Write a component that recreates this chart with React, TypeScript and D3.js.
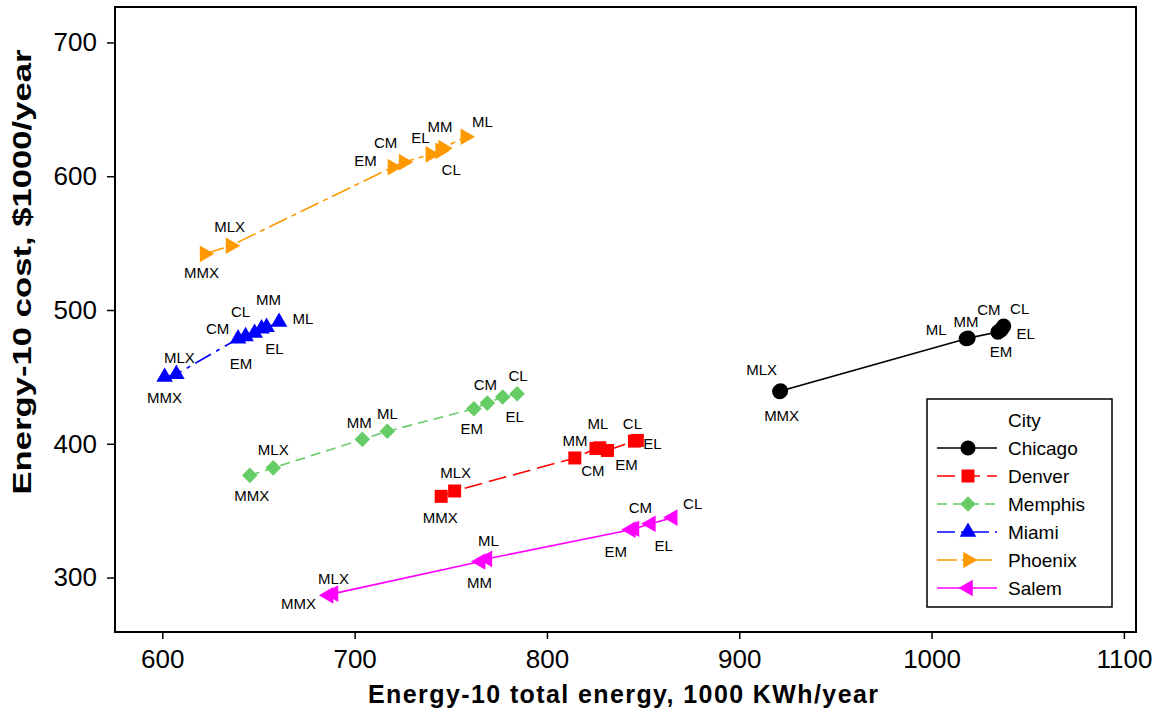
import React, { useEffect, useRef } from 'react';
import * as d3 from 'd3';

// values
const chicagoLabels = ['MMX', 'MLX', 'ML', 'MM', 'EM', 'CM', 'EL', 'CL'];
const chicagoEnergy = [921, 921.5, 1018, 1019, 1034.5, 1036, 1036.5, 1037.5];
const chicagoCost = [439, 439.5, 478.5, 479, 483.5, 485, 486, 488];

const denverLabels = ['MMX', 'MLX', 'CM', 'MM', 'ML', 'EM', 'CL', 'EL'];
const denverEnergy = [745, 752, 814.5, 825.5, 827.5, 831.5, 845.5, 847];
const denverCost = [360.7, 364.7, 389.4, 396.5, 397, 395, 402, 402.5];

const memphisLabels = ['MMX', 'MLX', 'MM', 'ML', 'EM', 'CM', 'EL', 'CL'];
const memphisEnergy = [645.5, 657.7, 704, 717, 762, 769, 777, 784.5];
const memphisCost = [376.4, 382, 403.3, 409.3, 426.2, 430.4, 435, 437.4];

const miamiLabels = ['MMX', 'MLX', 'EM', 'CM', 'CL', 'EL', 'MM', 'ML'];
const miamiEnergy = [601.2, 607.3, 639.4, 643.3, 648, 651.6, 654.2, 660.7];
const miamiCost = [449.9, 452, 478.6, 480.3, 482.8, 486, 487.2, 491];

const phoenixLabels = ['MMX', 'MLX', 'EM', 'CM', 'EL', 'CL', 'MM', 'ML'];
const phoenixEnergy = [622, 635.5, 719.7, 725.5, 739.4, 744.5, 746, 757.6];
const phoenixCost = [542, 548, 606.8, 610.5, 616.3, 619, 621, 629.5];

const salemLabels = ['MMX', 'MLX', 'MM', 'ML', 'EM', 'CM', 'EL', 'CL'];
const salemEnergy = [686.4, 689, 765.5, 769, 843.6, 845.5, 854, 865.4];
const salemCost = [286.7, 288, 312, 314, 335.8, 336.5, 340.2, 344.8];

const cityNames = ['Chicago', 'Denver', 'Memphis', 'Miami', 'Phoenix', 'Salem'];
const xTicks = [600, 700, 800, 900, 1000, 1100];
const yTicks = [300, 400, 500, 600, 700];

// styling per city
const cityStyle: Record<string, { color: string; dash: string; marker: string }> = {
  Chicago: { color: '#000000', dash: '', marker: 'circle' },
  Denver: { color: '#ff0000', dash: '18,7', marker: 'square' },
  Memphis: { color: '#66cc66', dash: '10,6', marker: 'diamond' },
  Miami: { color: '#0000ff', dash: '18,6,4,6', marker: 'up' },
  Phoenix: { color: '#ff9900', dash: '20,5,5,5', marker: 'right' },
  Salem: { color: '#ff00ff', dash: '', marker: 'left' },
};

// label offsets (px) from the marker centre
const labelOffset: Record<string, [number, number]> = {
  'Chicago:MMX': [2, 24], 'Chicago:MLX': [-19, -21], 'Chicago:ML': [-30, -9], 'Chicago:MM': [-2, -16],
  'Chicago:EM': [3, 20], 'Chicago:CM': [-12, -20], 'Chicago:EL': [24, 5], 'Chicago:CL': [16, -17],
  'Denver:MMX': [-1, 21], 'Denver:MLX': [1, -18], 'Denver:CM': [18, 13], 'Denver:MM': [-21, -8],
  'Denver:ML': [-2, -24], 'Denver:EM': [19, 14], 'Denver:CL': [-2, -18], 'Denver:EL': [15, 3],
  'Memphis:MMX': [2, 20], 'Memphis:MLX': [0, -18], 'Memphis:MM': [-3, -17], 'Memphis:ML': [0, -18],
  'Memphis:EM': [-2, 20], 'Memphis:CM': [-2, -19], 'Memphis:EL': [12, 20], 'Memphis:CL': [1, -18],
  'Miami:MMX': [0, 21], 'Miami:MLX': [3, -17], 'Miami:EM': [3, 25], 'Miami:CM': [-28, -8],
  'Miami:CL': [-14, -21], 'Miami:EL': [13, 20], 'Miami:MM': [2, -28], 'Miami:ML': [24, -3],
  'Phoenix:MMX': [-3, 19], 'Phoenix:MLX': [-1, -19], 'Phoenix:EM': [-27, -7], 'Phoenix:CM': [-18, -20],
  'Phoenix:EL': [-10, -17], 'Phoenix:CL': [11, 19], 'Phoenix:MM': [-3, -22], 'Phoenix:ML': [17, -15],
  'Salem:MMX': [-30, 8], 'Salem:MLX': [0, -15], 'Salem:MM': [-1, 21], 'Salem:ML': [1, -18],
  'Salem:EM': [-15, 22], 'Salem:CM': [6, -21], 'Salem:EL': [13, 22], 'Salem:CL': [20, -14],
};

const FONT = '"Liberation Sans", Arial, Helvetica, sans-serif';
const W = 1152;
const H = 713;

const markerPath = (kind: string) => {
  if (kind === 'circle') return { d: d3.symbol(d3.symbolCircle, 180)() as string, rot: 0 };
  if (kind === 'square') return { d: d3.symbol(d3.symbolSquare, 169)() as string, rot: 0 };
  if (kind === 'diamond') return { d: d3.symbol(d3.symbolSquare, 121)() as string, rot: 45 };
  const tri = d3.symbol(d3.symbolTriangle, 120)() as string;
  if (kind === 'right') return { d: tri, rot: 90 };
  if (kind === 'left') return { d: tri, rot: -90 };
  return { d: tri, rot: 0 };
};

export default function App() {
  const svgRef = useRef<SVGSVGElement>(null);

  useEffect(() => {
    document.body.style.margin = '0';
    if (!svgRef.current) return;
    const svg = d3.select(svgRef.current);
    svg.selectAll('*').remove();

    const plot = { left: 115, right: 1136, top: 7, bottom: 632 };
    const x = d3.scaleLinear().domain([575.4, 1106.3]).range([plot.left, plot.right]);
    const y = d3.scaleLinear().domain([259.3, 726.5]).range([plot.bottom, plot.top]);

    const series = [
      { name: 'Chicago', labels: chicagoLabels, xs: chicagoEnergy, ys: chicagoCost },
      { name: 'Denver', labels: denverLabels, xs: denverEnergy, ys: denverCost },
      { name: 'Memphis', labels: memphisLabels, xs: memphisEnergy, ys: memphisCost },
      { name: 'Miami', labels: miamiLabels, xs: miamiEnergy, ys: miamiCost },
      { name: 'Phoenix', labels: phoenixLabels, xs: phoenixEnergy, ys: phoenixCost },
      { name: 'Salem', labels: salemLabels, xs: salemEnergy, ys: salemCost },
    ].map((s) => ({
      ...s,
      points: s.labels.map((l, i) => ({ label: l, x: s.xs[i], y: s.ys[i] })),
    }));

    svg.append('rect').attr('width', W).attr('height', H).attr('fill', '#fff');

    // axes
    const xAxis = svg
      .append('g')
      .attr('transform', `translate(0,${plot.bottom})`)
      .call(d3.axisBottom(x).tickValues(xTicks).tickSize(7).tickPadding(11).tickFormat(d3.format('d')));
    const yAxis = svg
      .append('g')
      .attr('transform', `translate(${plot.left},0)`)
      .call(d3.axisLeft(y).tickValues(yTicks).tickSize(8).tickPadding(10).tickFormat(d3.format('d')));
    [xAxis, yAxis].forEach((a) => {
      a.select('.domain').remove();
      a.selectAll('line').attr('stroke', '#000').attr('stroke-width', 1.5);
      a.selectAll('text').attr('font-family', FONT).attr('font-size', 26).attr('fill', '#000');
    });

    // frame
    svg
      .append('rect')
      .attr('x', plot.left)
      .attr('y', plot.top)
      .attr('width', plot.right - plot.left)
      .attr('height', plot.bottom - plot.top)
      .attr('fill', 'none')
      .attr('stroke', '#000')
      .attr('stroke-width', 2);

    // axis titles
    svg
      .append('text')
      .attr('x', 623)
      .attr('y', 703)
      .attr('text-anchor', 'middle')
      .attr('font-family', FONT)
      .attr('font-weight', 'bold')
      .attr('font-size', 25)
      .attr('textLength', 510)
      .attr('lengthAdjust', 'spacing')
      .text('Energy-10 total energy, 1000 KWh/year');

    svg
      .append('text')
      .attr('transform', 'translate(31,272) rotate(-90)')
      .attr('text-anchor', 'middle')
      .attr('font-family', FONT)
      .attr('font-weight', 'bold')
      .attr('font-size', 26)
      .attr('textLength', 445)
      .attr('lengthAdjust', 'spacingAndGlyphs')
      .text('Energy-10 cost, $1000/year');

    const line = d3
      .line<{ x: number; y: number }>()
      .x((d) => x(d.x))
      .y((d) => y(d.y));

    // lines
    series.forEach((s) => {
      const st = cityStyle[s.name];
      svg
        .append('path')
        .datum(s.points)
        .attr('d', line)
        .attr('fill', 'none')
        .attr('stroke', st.color)
        .attr('stroke-width', 1.6)
        .attr('stroke-dasharray', st.dash || null);
    });

    // markers
    series.forEach((s) => {
      const st = cityStyle[s.name];
      const m = markerPath(st.marker);
      svg
        .append('g')
        .selectAll('path')
        .data(s.points)
        .enter()
        .append('path')
        .attr('d', m.d)
        .attr('transform', (d) => `translate(${x(d.x)},${y(d.y)}) rotate(${m.rot})`)
        .attr('fill', st.color);
    });

    // point labels
    series.forEach((s) => {
      svg
        .append('g')
        .selectAll('text')
        .data(s.points)
        .enter()
        .append('text')
        .attr('x', (d) => x(d.x) + (labelOffset[`${s.name}:${d.label}`] || [0, 0])[0])
        .attr('y', (d) => y(d.y) + (labelOffset[`${s.name}:${d.label}`] || [0, 0])[1])
        .attr('dy', '0.36em')
        .attr('text-anchor', 'middle')
        .attr('font-family', FONT)
        .attr('font-size', 15)
        .attr('fill', '#000')
        .text((d) => d.label);
    });

    // legend
    const legend = svg.append('g');
    legend
      .append('rect')
      .attr('x', 927)
      .attr('y', 399)
      .attr('width', 185)
      .attr('height', 208)
      .attr('fill', '#fff')
      .attr('stroke', '#000')
      .attr('stroke-width', 1.5);
    legend
      .append('text')
      .attr('x', 1008)
      .attr('y', 420)
      .attr('dy', '0.36em')
      .attr('font-family', FONT)
      .attr('font-size', 19)
      .text('City');

    cityNames.forEach((name, i) => {
      const st = cityStyle[name];
      const ry = 448 + i * 28;
      legend
        .append('line')
        .attr('x1', 937)
        .attr('x2', 997)
        .attr('y1', ry)
        .attr('y2', ry)
        .attr('stroke', st.color)
        .attr('stroke-width', 1.6)
        .attr('stroke-dasharray', st.dash || null);
      const m = markerPath(st.marker);
      legend
        .append('path')
        .attr('d', m.d)
        .attr('transform', `translate(968,${ry}) rotate(${m.rot})`)
        .attr('fill', st.color);
      legend
        .append('text')
        .attr('x', 1008)
        .attr('y', ry)
        .attr('dy', '0.36em')
        .attr('font-family', FONT)
        .attr('font-size', 19)
        .text(name);
    });
  }, []);

  return <svg ref={svgRef} width={W} height={H} style={{ display: 'block' }} />;
}
